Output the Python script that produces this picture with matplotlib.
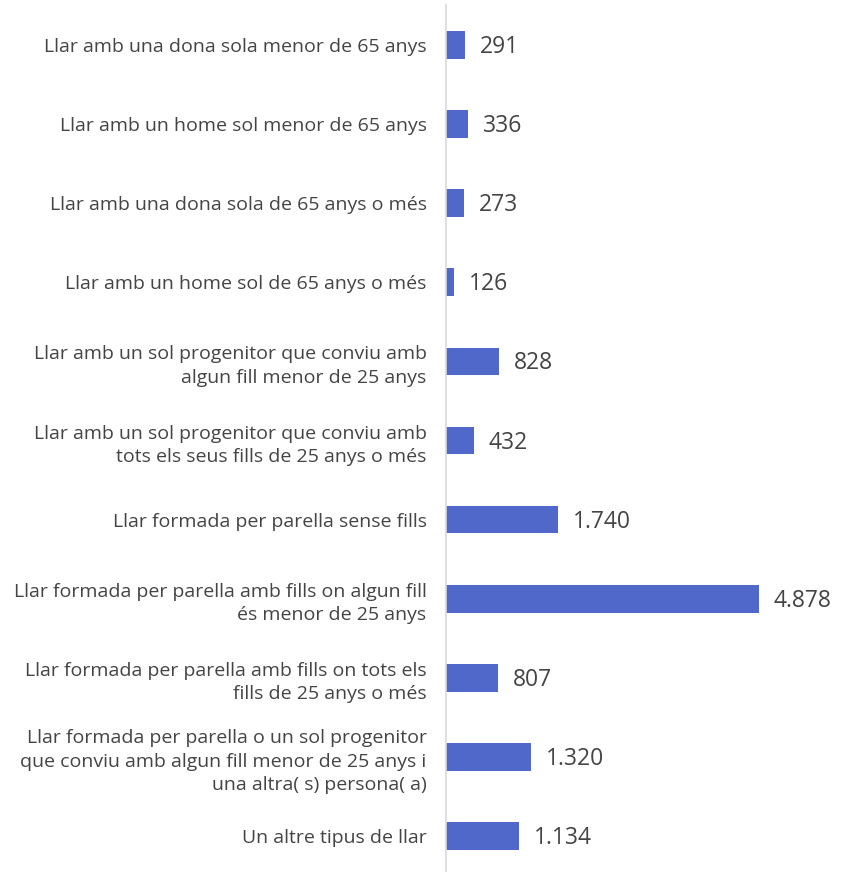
import numpy as np
import matplotlib.pyplot as plt

plt.rcParams['font.family'] = ['Open Sans', 'DejaVu Sans']

categories = [
    "Llar amb una dona sola menor de 65 anys",
    "Llar amb un home sol menor de 65 anys",
    "Llar amb una dona sola de 65 anys o més",
    "Llar amb un home sol de 65 anys o més",
    "Llar amb un sol progenitor que conviu amb\nalgun fill menor de 25 anys",
    "Llar amb un sol progenitor que conviu amb\ntots els seus fills de 25 anys o més",
    "Llar formada per parella sense fills",
    "Llar formada per parella amb fills on algun fill\nés menor de 25 anys",
    "Llar formada per parella amb fills on tots els\nfills de 25 anys o més",
    "Llar formada per parella o un sol progenitor\nque conviu amb algun fill menor de 25 anys i\nuna altra( s) persona( a)",
    "Un altre tipus de llar",
]
values = [291, 336, 273, 126, 828, 432, 1740, 4878, 807, 1320, 1134]
value_labels = ["291", "336", "273", "126", "828", "432", "1.740", "4.878", "807", "1.320", "1.134"]

fig = plt.figure(figsize=(8.43, 8.72), dpi=100)
# axes spans the plot area; left edge is the gray category axis
ax = fig.add_axes([446 / 843, -3.5 / 872, 1 - 446 / 843, 870 / 872])

y = np.arange(len(categories))
bars = ax.barh(y, values, height=0.35, color='#4F68C9')

ax.set_ylim(len(categories) - 0.5, -0.5)
ax.set_xlim(0, 6190)
ax.set_yticks(y)
ax.set_yticklabels(categories, fontsize=14, color='#444444', linespacing=1.4, ha='right')
ax.tick_params(axis='y', length=0, pad=14)
ax.set_xticks([])

for b, lab in zip(bars, value_labels):
    ax.annotate(lab, (b.get_width(), b.get_y() + b.get_height() / 2),
                xytext=(15, -2), textcoords='offset pixels',
                va='center', ha='left', fontsize=16.5, color='#444444')

for s in ['top', 'right', 'bottom']:
    ax.spines[s].set_visible(False)
ax.spines['left'].set_color('#D9D9D9')
ax.spines['left'].set_linewidth(1.2)

fig.savefig('out.png', dpi=100)
